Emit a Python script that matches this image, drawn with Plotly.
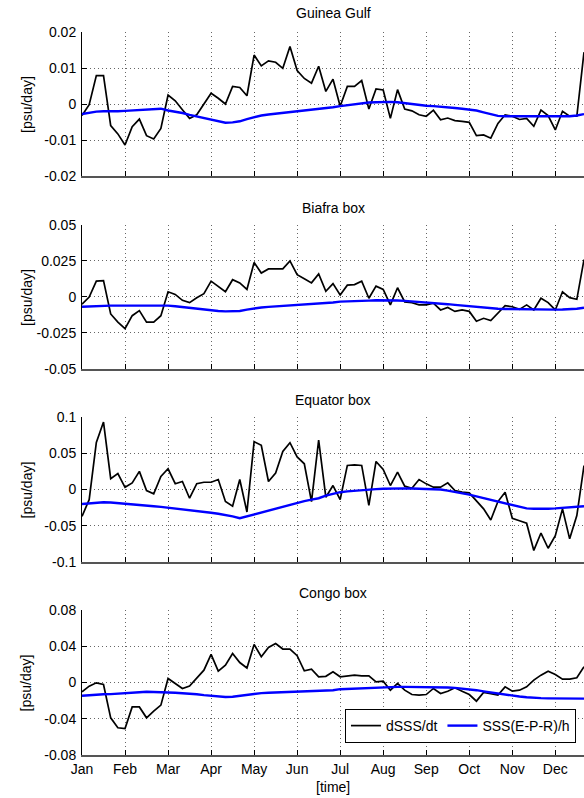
import plotly.graph_objects as go
from plotly.subplots import make_subplots

# time axis: 6 samples per month, Jan = 0
time_months = [i / 6 for i in range(71)]
month_ticks = [0, 1, 2, 3, 4, 5, 6, 7, 8, 9, 10, 11]
month_labels = ["Jan", "Feb", "Mar", "Apr", "May", "Jun", "Jul", "Aug", "Sep", "Oct", "Nov", "Dec"]

panel_titles = ["Guinea Gulf", "Biafra box", "Equator box", "Congo box"]

guinea_dsss = [-0.0032, -0.0002, 0.0079, 0.0079, -0.0060, -0.0083, -0.0114, -0.0063, -0.0042, -0.0088,
               -0.0097, -0.0068, 0.0025, 0.0009, -0.0016, -0.0040, -0.0030, 0.0000, 0.0030, 0.0016,
               0.0000, 0.0049, 0.0046, 0.0023, 0.0136, 0.0106, 0.0120, 0.0116, 0.0099, 0.0160,
               0.0093, 0.0071, 0.0058, 0.0105, 0.0035, 0.0069, -0.0006, 0.0049, 0.0049, 0.0065,
               -0.0014, 0.0042, 0.0039, -0.0040, 0.0040, -0.0014, -0.0019, -0.0030, -0.0034, -0.0017,
               -0.0044, -0.0039, -0.0046, -0.0048, -0.0051, -0.0088, -0.0086, -0.0095, -0.0054, -0.0030,
               -0.0034, -0.0043, -0.0040, -0.0062, -0.0017, -0.0032, -0.0072, -0.0020, -0.0034, -0.0034,
               0.0144]
guinea_epr = [-0.0028, -0.0024, -0.0021, -0.0020, -0.0021, -0.0020, -0.0019, -0.0018, -0.0017, -0.0014,
              -0.0013, -0.0013, -0.0018, -0.0021, -0.0025, -0.0030, -0.0034, -0.0038, -0.0043, -0.0048,
              -0.0052, -0.0051, -0.0048, -0.0042, -0.0036, -0.0032, -0.0029, -0.0027, -0.0025, -0.0023,
              -0.0021, -0.0019, -0.0017, -0.0014, -0.0012, -0.0009, -0.0006, -0.0003, 0.0000, 0.0002,
              0.0004, 0.0005, 0.0006, 0.0006, 0.0005, 0.0002, -0.0001, -0.0003, -0.0005, -0.0006,
              -0.0007, -0.0009, -0.0011, -0.0013, -0.0015, -0.0018, -0.0023, -0.0029, -0.0033, -0.0034,
              -0.0034, -0.0034, -0.0034, -0.0035, -0.0035, -0.0035, -0.0035, -0.0034, -0.0034, -0.0032,
              -0.0028]

biafra_dsss = [-0.0050, 0.0000, 0.0110, 0.0114, -0.0118, -0.0175, -0.0220, -0.0130, -0.0095, -0.0175,
               -0.0175, -0.0130, 0.0036, 0.0018, -0.0023, -0.0039, -0.0005, 0.0023, 0.0110, 0.0075,
               0.0036, 0.0120, 0.0098, 0.0052, 0.0240, 0.0166, 0.0195, 0.0195, 0.0195, 0.0250,
               0.0155, 0.0127, 0.0098, 0.0160, 0.0040, 0.0093, 0.0014, 0.0082, 0.0086, 0.0110,
               -0.0009, 0.0075, 0.0052, -0.0055, 0.0064, -0.0034, -0.0040, -0.0055, -0.0055, -0.0043,
               -0.0090, -0.0073, -0.0100, -0.0089, -0.0100, -0.0168, -0.0148, -0.0164, -0.0114, -0.0061,
               -0.0068, -0.0086, -0.0055, -0.0090, -0.0009, -0.0039, -0.0090, 0.0036, -0.0005, -0.0016,
               0.0260]
biafra_epr = [-0.0068, -0.0065, -0.0062, -0.0060, -0.0060, -0.0060, -0.0060, -0.0058, -0.0056, -0.0055,
              -0.0056, -0.0058, -0.0060, -0.0064, -0.0070, -0.0077, -0.0083, -0.0088, -0.0093, -0.0097,
              -0.0100, -0.0100, -0.0097, -0.0088, -0.0078, -0.0073, -0.0069, -0.0066, -0.0062, -0.0059,
              -0.0055, -0.0052, -0.0048, -0.0045, -0.0041, -0.0038, -0.0032, -0.0029, -0.0027, -0.0026,
              -0.0025, -0.0023, -0.0022, -0.0022, -0.0024, -0.0027, -0.0030, -0.0034, -0.0037, -0.0041,
              -0.0045, -0.0050, -0.0055, -0.0060, -0.0066, -0.0072, -0.0077, -0.0080, -0.0082, -0.0083,
              -0.0084, -0.0086, -0.0088, -0.0090, -0.0090, -0.0089, -0.0088, -0.0087, -0.0085, -0.0082,
              -0.0075]

equator_dsss = [-0.0370, -0.0140, 0.0650, 0.0930, 0.0150, 0.0220, 0.0030, 0.0090, 0.0250, -0.0014,
                -0.0060, 0.0180, 0.0286, 0.0080, 0.0110, -0.0120, 0.0080, 0.0100, 0.0100, 0.0138,
                -0.0166, -0.0230, 0.0138, -0.0310, 0.0660, 0.0610, 0.0110, 0.0226, 0.0525, 0.0645,
                0.0450, 0.0355, -0.0166, 0.0680, -0.0106, 0.0055, -0.0138, 0.0332, 0.0340, 0.0332,
                -0.0220, 0.0387, 0.0276, 0.0055, 0.0240, 0.0046, 0.0018, 0.0138, 0.0078, 0.0032,
                0.0032, 0.0092, -0.0014, -0.0037, -0.0046, -0.0150, -0.0267, -0.0420, -0.0166, -0.0037,
                -0.0396, -0.0430, -0.0465, -0.0840, -0.0600, -0.0810, -0.0636, -0.0267, -0.0680, -0.0360,
                0.0330]
equator_epr = [-0.0200, -0.0190, -0.0180, -0.0175, -0.0180, -0.0190, -0.0200, -0.0210, -0.0220, -0.0225,
               -0.0230, -0.0240, -0.0250, -0.0260, -0.0277, -0.0290, -0.0300, -0.0310, -0.0320, -0.0335,
               -0.0350, -0.0370, -0.0396, -0.0370, -0.0336, -0.0310, -0.0290, -0.0267, -0.0240, -0.0210,
               -0.0180, -0.0160, -0.0140, -0.0120, -0.0085, -0.0060, -0.0037, -0.0025, -0.0015, -0.0007,
               0.0000, 0.0005, 0.0010, 0.0015, 0.0018, 0.0016, 0.0013, 0.0010, 0.0006, 0.0003,
               0.0000, -0.0015, -0.0030, -0.0050, -0.0070, -0.0095, -0.0120, -0.0140, -0.0166, -0.0190,
               -0.0210, -0.0235, -0.0260, -0.0265, -0.0267, -0.0265, -0.0260, -0.0255, -0.0244, -0.0237,
               -0.0230]

congo_dsss = [-0.0103, -0.0040, -0.0004, -0.0022, -0.0390, -0.0500, -0.0509, -0.0270, -0.0270, -0.0390,
              -0.0317, -0.0250, 0.0044, -0.0011, -0.0066, -0.0040, 0.0052, 0.0136, 0.0310, 0.0125,
              0.0190, 0.0320, 0.0220, 0.0160, 0.0420, 0.0284, 0.0387, 0.0430, 0.0369, 0.0369,
              0.0295, 0.0129, 0.0147, 0.0063, 0.0068, 0.0118, 0.0063, 0.0070, 0.0081, 0.0074,
              0.0074, 0.0007, 0.0015, -0.0085, -0.0011, -0.0085, -0.0133, -0.0140, -0.0133, -0.0066,
              -0.0122, -0.0096, -0.0059, -0.0096, -0.0133, -0.0206, -0.0110, -0.0122, -0.0140, -0.0048,
              -0.0096, -0.0085, -0.0048, 0.0026, 0.0081, 0.0125, 0.0088, 0.0037, 0.0037, 0.0052,
              0.0173]
congo_epr = [-0.0147, -0.0140, -0.0135, -0.0130, -0.0128, -0.0125, -0.0122, -0.0115, -0.0108, -0.0103,
             -0.0103, -0.0106, -0.0110, -0.0113, -0.0117, -0.0122, -0.0130, -0.0140, -0.0147, -0.0155,
             -0.0160, -0.0158, -0.0147, -0.0135, -0.0122, -0.0117, -0.0113, -0.0110, -0.0107, -0.0105,
             -0.0103, -0.0099, -0.0095, -0.0092, -0.0088, -0.0085, -0.0074, -0.0070, -0.0066, -0.0062,
             -0.0059, -0.0056, -0.0053, -0.0050, -0.0048, -0.0048, -0.0048, -0.0048, -0.0048, -0.0050,
             -0.0052, -0.0055, -0.0059, -0.0065, -0.0074, -0.0085, -0.0098, -0.0110, -0.0125, -0.0137,
             -0.0147, -0.0155, -0.0163, -0.0170, -0.0173, -0.0175, -0.0177, -0.0177, -0.0178, -0.0178,
             -0.0178]

ytick_vals = [
    [-0.02, -0.01, 0, 0.01, 0.02],
    [-0.05, -0.025, 0, 0.025, 0.05],
    [-0.1, -0.05, 0, 0.05, 0.1],
    [-0.08, -0.04, 0, 0.04, 0.08],
]
ytick_text = [
    ["-0.02", "-0.01", "0", "0.01", "0.02"],
    ["-0.05", "-0.025", "0", "0.025", "0.05"],
    ["-0.1", "-0.05", "0", "0.05", "0.1"],
    ["-0.08", "-0.04", "0", "0.04", "0.08"],
]

dsss_series = [guinea_dsss, biafra_dsss, equator_dsss, congo_dsss]
epr_series = [guinea_epr, biafra_epr, equator_epr, congo_epr]

FONT = "Liberation Sans, Arial, Helvetica, sans-serif"
GRID = dict(showgrid=True, gridcolor="rgba(0,0,0,0.6)", griddash="1px,3px", gridwidth=1)

fig = make_subplots(rows=4, cols=1)

for k in range(4):
    fig.add_trace(go.Scatter(x=time_months, y=dsss_series[k], mode="lines",
                             line=dict(color="black", width=1.7),
                             name="dSSS/dt", showlegend=(k == 3)), row=k + 1, col=1)
    fig.add_trace(go.Scatter(x=time_months, y=epr_series[k], mode="lines",
                             line=dict(color="#0000ff", width=2.4),
                             name="SSS(E-P-R)/h", showlegend=(k == 3)), row=k + 1, col=1)

domains = [[0.8008, 1.0], [0.5339, 0.7331], [0.2669, 0.4675], [0.0, 0.2006]]
title_shift = [9, 7, 7, 7]

for k in range(4):
    xa = "xaxis" if k == 0 else f"xaxis{k + 1}"
    ya = "yaxis" if k == 0 else f"yaxis{k + 1}"
    fig.layout[xa].update(
        domain=[0, 1], range=[0, 70 / 6],
        tickvals=month_ticks, ticktext=month_labels,
        showticklabels=(k == 3),
        ticks="inside", ticklen=5, tickcolor="black",
        showline=True, linecolor="#555", linewidth=1.5,
        zeroline=False,
        tickfont=dict(family=FONT, size=14, color="black"),
        **GRID,
    )
    lo, hi = ytick_vals[k][0], ytick_vals[k][-1]
    fig.layout[ya].update(
        domain=domains[k], range=[lo, hi],
        tickvals=ytick_vals[k], ticktext=ytick_text[k],
        ticks="inside", ticklen=5, tickcolor="black",
        showline=True, linecolor="black", linewidth=1,
        zeroline=False,
        tickfont=dict(family=FONT, size=14, color="black"),
        ticklabelstandoff=2,
        **GRID,
    )
    # panel title
    fig.add_annotation(text=panel_titles[k], xref="paper", yref="paper",
                       x=0.5, y=domains[k][1], yanchor="bottom", yshift=title_shift[k],
                       showarrow=False, font=dict(family=FONT, size=14, color="black"))
    # y label
    fig.add_annotation(text="[psu/day]", xref="paper", yref="paper",
                       x=-0.1096, y=(domains[k][0] + domains[k][1]) / 2,
                       xanchor="center", yanchor="middle", textangle=-90,
                       showarrow=False, font=dict(family=FONT, size=14, color="black"))

fig.add_annotation(text="[time]", xref="paper", yref="paper", x=0.5, y=-0.0443,
                   xanchor="center", yanchor="middle", showarrow=False,
                   font=dict(family=FONT, size=14, color="black"))

fig.update_layout(
    width=584, height=798,
    margin=dict(l=82, r=0, t=32, b=43),
    paper_bgcolor="white", plot_bgcolor="white",
    font=dict(family=FONT, size=14, color="black"),
    legend=dict(orientation="h", x=0.984, xanchor="right", y=0.0166, yanchor="bottom",
                bgcolor="white", bordercolor="black", borderwidth=1,
                font=dict(family=FONT, size=14, color="black"),
                itemwidth=30, tracegroupgap=0),
)

# remove the default page margin so the 584x798 figure fills the window exactly
fig.write_html(
    "out.html",
    config={"displayModeBar": False},
    post_script="document.body.style.margin='0';document.body.style.overflow='hidden';"
                "document.documentElement.style.overflow='hidden';",
)
